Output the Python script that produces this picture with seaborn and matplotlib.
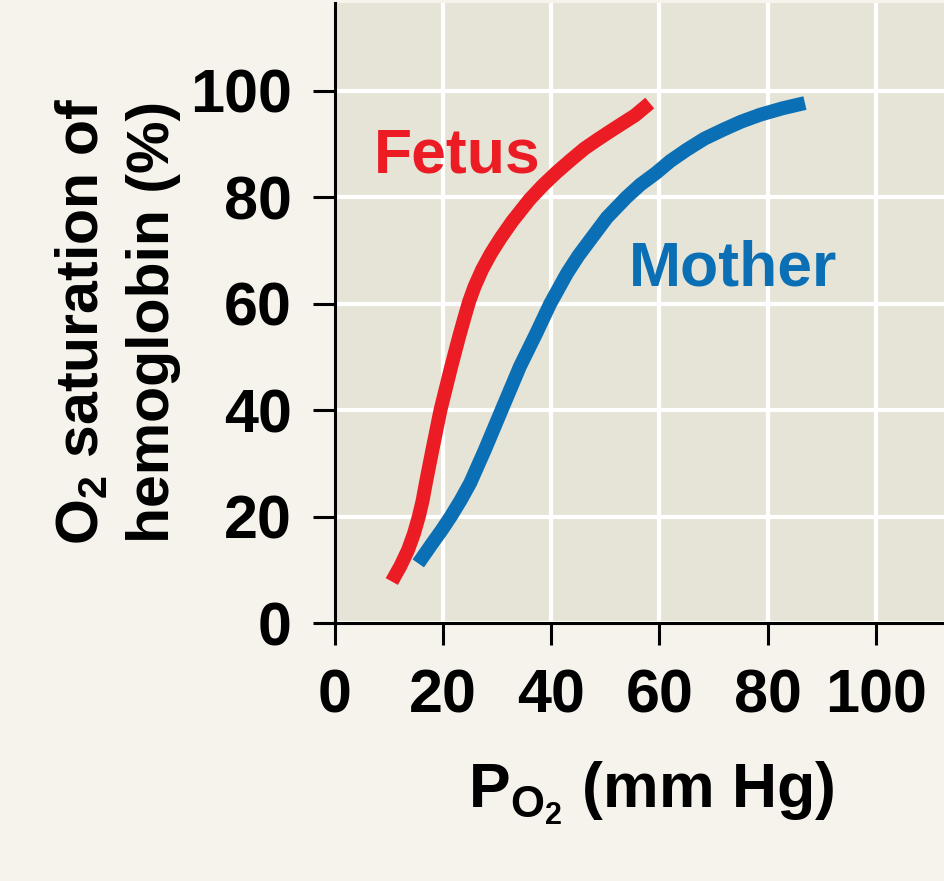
import matplotlib
matplotlib.use("Agg")
import matplotlib.pyplot as plt
import pandas as pd
import seaborn as sns

# Oxygen saturation of hemoglobin vs. partial pressure of O2
fetus_po2 = [10.5, 12.1, 13.5, 14.6, 15.5, 16.2, 16.8, 18.0, 19.5, 21.5, 23.0,
             24.0, 24.8, 25.8, 27.2, 28.8, 30.6, 32.8, 36.0, 38.4, 41.0, 43.6,
             46.2, 48.8, 51.5, 55.5, 58.2]
fetus_sat = [7.8, 10.7, 13.7, 16.8, 20.0, 23.0, 26.3, 32.5, 40.0, 48.2, 54.0,
             57.6, 60.4, 63.2, 66.4, 69.4, 72.3, 75.5, 79.6, 82.2, 84.7, 87.0,
             89.2, 91.0, 92.8, 95.4, 97.7]

mother_po2 = [15.4, 16.7, 18.0, 19.7, 21.4, 23.2, 25.0, 27.7, 30.8, 34.2, 37.2,
              39.8, 42.9, 45.0, 47.2, 50.3, 53.9, 56.5, 59.3, 62.0, 65.0, 68.3,
              71.8, 75.1, 78.6, 82.7, 86.9]
mother_sat = [11.2, 13.1, 15.0, 17.4, 20.0, 23.0, 26.3, 32.5, 40.0, 48.2, 54.4,
              60.0, 65.7, 69.0, 72.0, 76.2, 80.0, 82.4, 84.5, 86.8, 88.9, 91.0,
              92.7, 94.2, 95.5, 96.7, 97.7]

tick_values = [0, 20, 40, 60, 80, 100]
curve_names = ["Fetus", "Mother"]

FIG_BG = "#f5f3ec"
PLOT_BG = "#e6e4d6"
RED = "#ec1c24"
BLUE = "#0a6fb5"

sns.set_style("darkgrid", rc={
    "axes.facecolor": PLOT_BG,
    "figure.facecolor": FIG_BG,
    "grid.color": "white",
    "axes.edgecolor": "black",
})
plt.rcParams["font.family"] = ["Liberation Sans", "DejaVu Sans"]
plt.rcParams["font.weight"] = "bold"
plt.rcParams["axes.labelweight"] = "bold"
plt.rcParams["mathtext.fontset"] = "custom"
plt.rcParams["mathtext.rm"] = "Liberation Sans:bold"
plt.rcParams["mathtext.bf"] = "Liberation Sans:bold"

df = pd.concat([
    pd.DataFrame({"po2": fetus_po2, "sat": fetus_sat, "curve": curve_names[0]}),
    pd.DataFrame({"po2": mother_po2, "sat": mother_sat, "curve": curve_names[1]}),
], ignore_index=True)

fig = plt.figure(figsize=(9.45, 8.81), dpi=100)
ax = fig.add_axes([335 / 945, (881 - 623) / 881, 610 / 945, 620 / 881])

sns.lineplot(data=df, x="po2", y="sat", hue="curve",
             palette={curve_names[0]: RED, curve_names[1]: BLUE},
             sort=False, estimator=None, linewidth=10, legend=False, ax=ax)
for line in ax.lines:
    line.set_solid_capstyle("butt")
    line.set_solid_joinstyle("round")

ax.grid(True, color="white", linewidth=3.0)
ax.set_axisbelow(True)

ax.set_xlim(0, 112.8)
ax.set_ylim(0, 116.5)
ax.set_xticks(tick_values)
ax.set_yticks(tick_values)
ax.set_xticklabels([str(v) for v in tick_values])
ax.set_yticklabels([str(v) for v in tick_values])
ax.tick_params(axis="both", which="major", length=16, width=2.2, color="black",
               labelsize=44, direction="out", bottom=True, left=True,
               labelcolor="black")
ax.tick_params(axis="x", pad=17)
ax.tick_params(axis="y", pad=15)

for side in ["top", "right"]:
    ax.spines[side].set_visible(False)
for side in ["left", "bottom"]:
    ax.spines[side].set_visible(True)
    ax.spines[side].set_linewidth(2.2)
    ax.spines[side].set_color("black")

ax.set_xlabel(r"P$_{\mathregular{O_2}}$ (mm Hg)", fontsize=45, color="black",
              fontweight="bold")
ax.xaxis.set_label_coords(0.518, -0.221)
ax.set_ylabel("O$_\\mathregular{2}$ saturation of\nhemoglobin (%)", fontsize=42.5,
              color="black", fontweight="bold", linespacing=1.35)
ax.yaxis.set_label_coords(-0.253, 0.4855)

ax.text(7.2, 84.6, curve_names[0], color=RED, fontsize=45, fontweight="bold",
        ha="left", va="baseline")
ax.text(54.3, 63.5, curve_names[1], color=BLUE, fontsize=45, fontweight="bold",
        ha="left", va="baseline")

fig.savefig("out.png", dpi=100, facecolor=FIG_BG)
